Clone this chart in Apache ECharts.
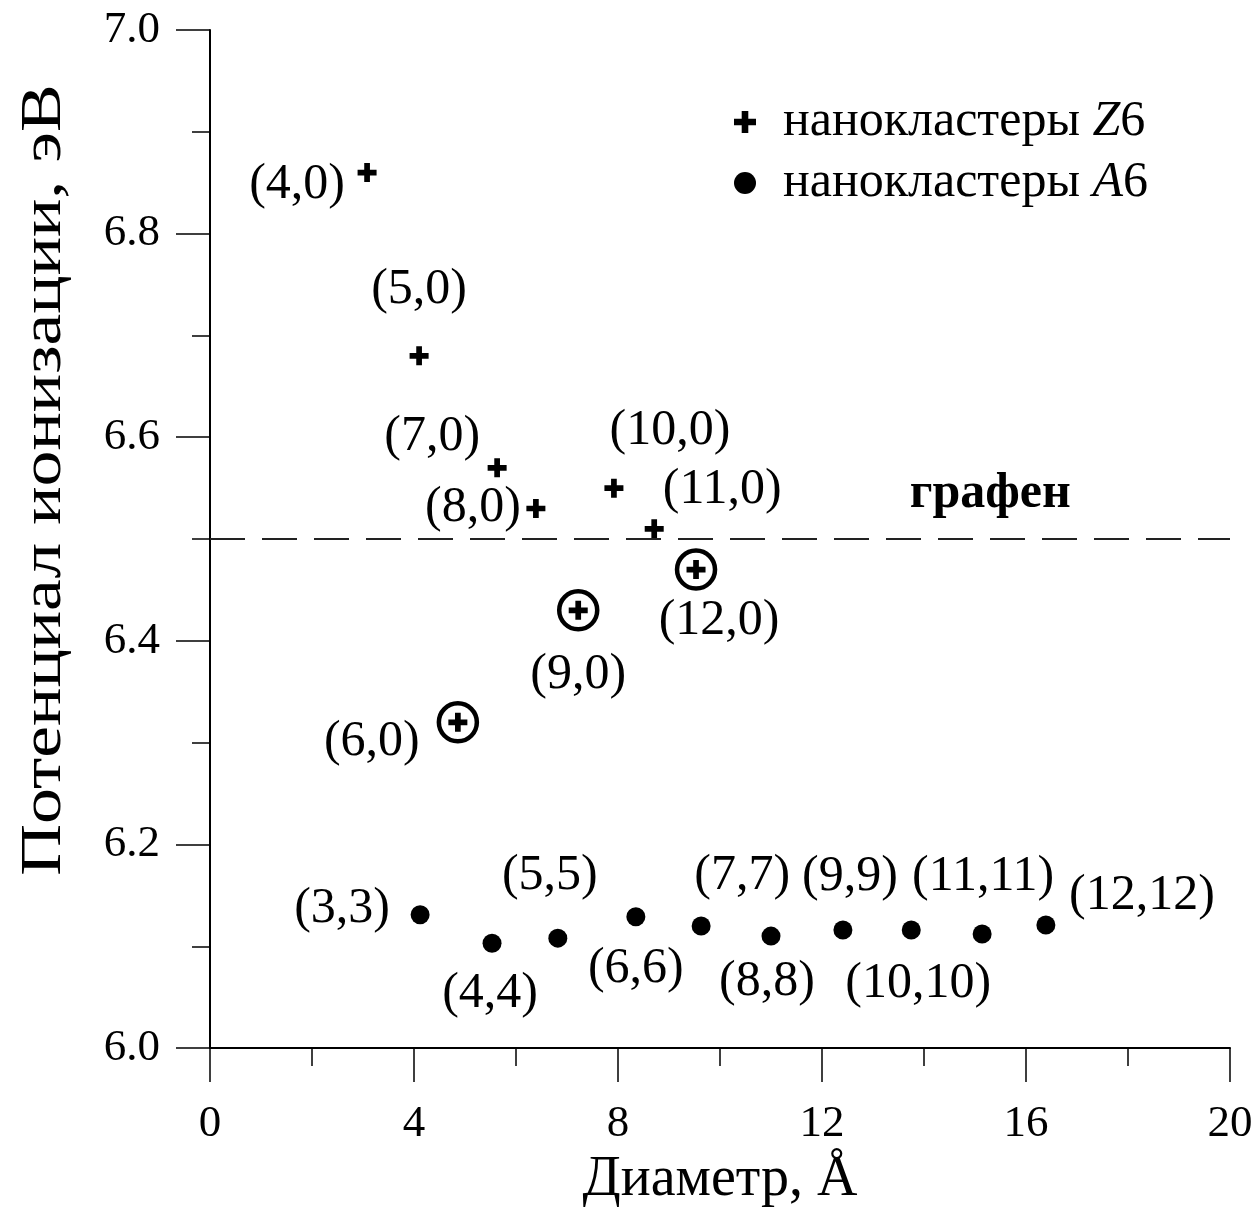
<!DOCTYPE html>
<html>
<head>
<meta charset="utf-8">
<script src="https://cdn.jsdelivr.net/npm/echarts@6/dist/echarts.min.js"></script>
<style>
  html, body { margin: 0; padding: 0; background: #fff; }
  #chart { width: 1259px; height: 1213px; }
</style>
</head>
<body>
<div id="chart"></div>
<script>
// Zigzag (n,0) nanoclusters: diameter (Å) and ionization potential (eV)
const zigzagNames = ['(4,0)', '(5,0)', '(7,0)', '(8,0)', '(10,0)', '(11,0)', '(6,0)', '(9,0)', '(12,0)'];
const zigzagDiameter = [3.08, 4.10, 5.63, 6.39, 7.92, 8.71, 4.86, 7.22, 9.53];
const zigzagPotential = [6.86, 6.68, 6.57, 6.53, 6.55, 6.51, 6.32, 6.43, 6.47];
// which zigzag clusters are highlighted with a ring
const zigzagRinged = ['(6,0)', '(9,0)', '(12,0)'];

// Armchair (n,n) nanoclusters
const armchairNames = ['(3,3)', '(4,4)', '(5,5)', '(6,6)', '(7,7)', '(8,8)', '(9,9)', '(10,10)', '(11,11)', '(12,12)'];
const armchairDiameter = [4.12, 5.53, 6.82, 8.35, 9.63, 11.00, 12.41, 13.75, 15.14, 16.39];
const armchairPotential = [6.131, 6.103, 6.108, 6.129, 6.120, 6.110, 6.116, 6.116, 6.112, 6.121];

// graphene reference level, eV
const grapheneLevel = 6.5;

// axis ranges and tick steps
const xRange = [0, 20], xStep = 4;
const yRange = [6.0, 7.0], yStep = 0.2;

// label placement around each mark (pixel offsets, styling only)
const zigzagLabelOffset = {
  '(4,0)': [-70, 12], '(5,0)': [0, -66], '(7,0)': [-65, -31], '(8,0)': [-63, -1],
  '(10,0)': [56, -57], '(11,0)': [68, -39], '(6,0)': [-86, 20], '(9,0)': [0, 65], '(12,0)': [23, 51]
};
const armchairLabelOffset = {
  '(3,3)': [-78, -6], '(4,4)': [-2, 51], '(5,5)': [-8, -62], '(6,6)': [0, 52], '(7,7)': [41, -50],
  '(8,8)': [-4, 46], '(9,9)': [7, -53], '(10,10)': [7, 54], '(11,11)': [1, -57], '(12,12)': [96, -29]
};

const FONT = "'Liberation Serif', 'Times New Roman', 'DejaVu Serif', serif";
const PLUS = 'path://M-2.4,-8 L2.4,-8 L2.4,-2.4 L8,-2.4 L8,2.4 L2.4,2.4 L2.4,8 L-2.4,8 L-2.4,2.4 L-8,2.4 L-8,-2.4 L-2.4,-2.4 Z';

const labelStyle = { show: true, position: 'inside', color: '#000', fontFamily: FONT, fontSize: 50 };

const zigzagData = zigzagNames.map((n, i) => ({
  name: n,
  value: [zigzagDiameter[i], zigzagPotential[i]],
  label: Object.assign({}, labelStyle, { formatter: n, offset: zigzagLabelOffset[n] })
}));
const ringData = zigzagNames
  .map((n, i) => ({ name: n, value: [zigzagDiameter[i], zigzagPotential[i]] }))
  .filter(d => zigzagRinged.includes(d.name));
const armchairData = armchairNames.map((n, i) => ({
  name: n,
  value: [armchairDiameter[i], armchairPotential[i]],
  label: Object.assign({}, labelStyle, { formatter: n, offset: armchairLabelOffset[n] })
}));

const chart = echarts.init(document.getElementById('chart'), null, { renderer: 'canvas' });

chart.setOption({
  backgroundColor: '#fff',
  animation: false,
  textStyle: { fontFamily: FONT, color: '#000' },
  grid: { left: 210, right: 29, top: 30, bottom: 164, containLabel: false },
  // y-axis title, drawn tall and narrow along its length
  graphic: [{
    type: 'text',
    x: 45,
    y: 480,
    rotation: Math.PI / 2,
    scaleX: 1.28,
    scaleY: 1,
    style: {
      text: 'Потенциал ионизации, эВ',
      fontFamily: FONT,
      fontSize: 56,
      fill: '#000',
      align: 'center',
      verticalAlign: 'middle'
    }
  }],
  legend: {
    orient: 'vertical',
    left: 729,
    top: 92,
    itemWidth: 22,
    itemHeight: 22,
    itemGap: 11,
    data: ['Z6', 'A6'],
    selectedMode: false,
    formatter: name => 'нанокластеры {i|' + name.charAt(0) + '}' + name.slice(1),
    textStyle: {
      fontFamily: FONT, fontSize: 50, color: '#000', padding: [0, 0, 0, 22],
      rich: { i: { fontFamily: FONT, fontSize: 50, fontStyle: 'italic', color: '#000' } }
    }
  },
  xAxis: {
    type: 'value',
    min: xRange[0], max: xRange[1], interval: xStep,
    name: 'Диаметр, Å',
    nameLocation: 'middle',
    nameGap: 103,
    nameTextStyle: { fontFamily: FONT, fontSize: 56, color: '#000' },
    axisLine: { show: true, onZero: false, lineStyle: { color: '#000', width: 2 } },
    axisTick: { show: true, inside: false, length: 34, lineStyle: { color: '#000', width: 1.5 } },
    minorTick: { show: true, splitNumber: 2, length: 18, lineStyle: { color: '#000', width: 1.5 } },
    axisLabel: { color: '#000', fontFamily: FONT, fontSize: 45, margin: 54 },
    splitLine: { show: false }
  },
  yAxis: {
    type: 'value',
    min: yRange[0], max: yRange[1], interval: yStep,
    axisLine: { show: true, onZero: false, lineStyle: { color: '#000', width: 2 } },
    axisTick: { show: true, inside: false, length: 34, lineStyle: { color: '#000', width: 1.5 } },
    minorTick: { show: true, splitNumber: 2, length: 18, lineStyle: { color: '#000', width: 1.5 } },
    axisLabel: { color: '#000', fontFamily: FONT, fontSize: 45, margin: 50, formatter: v => v.toFixed(1) },
    splitLine: { show: false }
  },
  series: [
    {
      name: 'ring',
      type: 'scatter',
      symbol: 'circle',
      symbolSize: 38,
      itemStyle: { color: 'rgba(0,0,0,0)', borderColor: '#000', borderWidth: 4.5, opacity: 1 },
      silent: true,
      z: 2,
      data: ringData
    },
    {
      name: 'Z6',
      type: 'scatter',
      symbol: PLUS,
      symbolSize: 19,
      itemStyle: { color: '#000', opacity: 1 },
      z: 3,
      data: zigzagData,
      markLine: {
        silent: true,
        symbol: ['none', 'none'],
        lineStyle: { color: '#222', width: 2, type: [35, 17], opacity: 1 },
        label: { show: false },
        data: [{ yAxis: grapheneLevel }]
      },
      markPoint: {
        silent: true,
        symbol: 'circle',
        symbolSize: 0,
        label: {
          show: true, position: 'inside', formatter: 'графен', color: '#000',
          fontFamily: FONT, fontSize: 50, fontWeight: 'bold', offset: [0, -45]
        },
        data: [{ coord: [15.3, grapheneLevel] }]
      }
    },
    {
      name: 'A6',
      type: 'scatter',
      symbol: 'circle',
      symbolSize: 19,
      itemStyle: { color: '#000', opacity: 1 },
      z: 3,
      data: armchairData
    }
  ]
});
</script>
</body>
</html>
